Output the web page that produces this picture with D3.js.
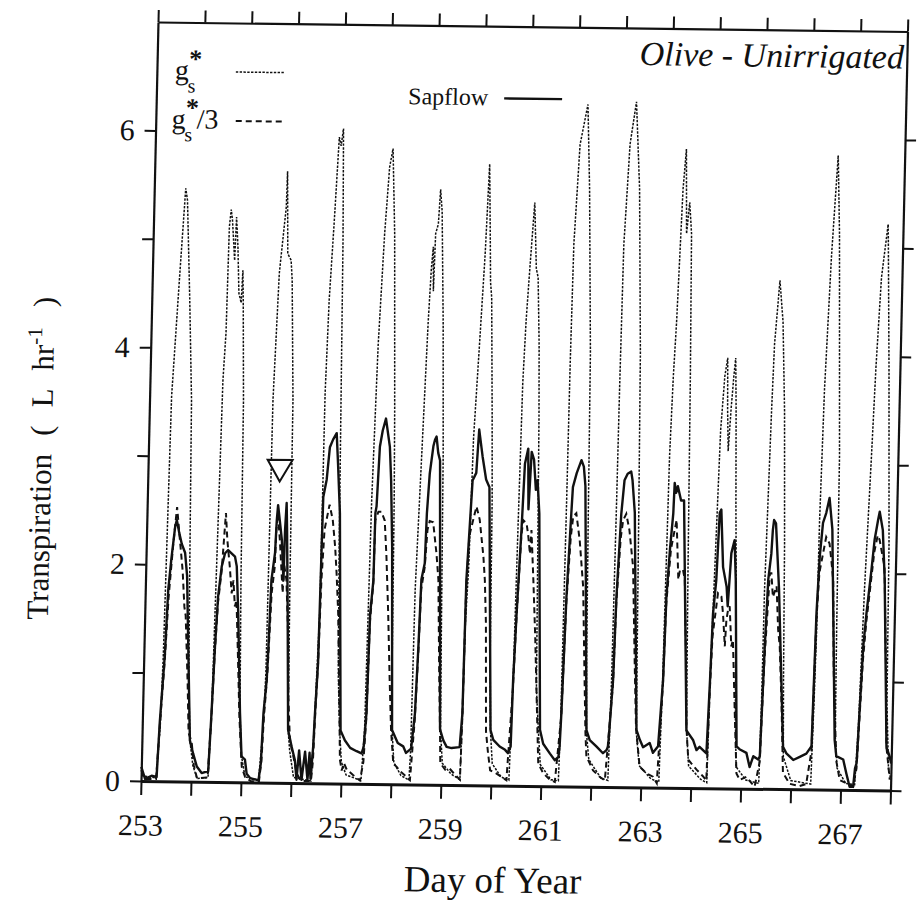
<!DOCTYPE html>
<html><head><meta charset="utf-8">
<script src="https://cdn.jsdelivr.net/npm/d3@7"></script>
<style>
body{margin:0;background:#fff}
svg{display:block}
svg text{font-family:'Liberation Serif','Times New Roman',serif !important;fill:#111}
</style></head>
<body><svg id="chart" width="918" height="902"></svg>
<script>
// ---------------- data ----------------
const dayTicks = [253,254,255,256,257,258,259,260,261,262,263,264,265,266,267,268];
const dayLabels = [253,255,257,259,261,263,265,267];
const valueTicks = [0,1,2,3,4,5,6];
const valueLabels = [0,2,4,6];
const topTickCount = 16;

const sapflow = [
[253.00,0.13],[253.08,0.02],[253.21,0.05],[253.31,0.04],[253.35,0.55],[253.42,1.16],[253.46,1.77],[253.51,2.06],[253.57,2.35],[253.60,2.41],[253.655,2.29],[253.71,2.19],[253.78,2.11],[253.83,1.90],[253.91,0.96],[253.96,0.38],[254.03,0.26],[254.11,0.14],[254.21,0.08],[254.34,0.10],
[254.38,0.63],[254.42,1.25],[254.46,1.71],[254.52,1.99],[254.58,2.11],[254.64,2.14],[254.71,2.11],[254.78,2.08],[254.82,1.99],[254.87,1.56],[254.95,0.64],[255.00,0.24],[255.07,0.21],[255.11,0.08],[255.18,0.04],[255.35,0.02],
[255.39,0.18],[255.42,0.64],[255.47,0.95],[255.49,1.25],[255.52,1.87],[255.58,2.12],[255.60,2.42],[255.62,2.56],[255.66,2.42],[255.71,2.24],[255.76,1.87],[255.77,2.33],[255.79,2.58],[255.81,2.33],[255.86,1.56],[255.92,0.49],[256.00,0.33],[256.07,0.21],[256.11,0.03],[256.15,0.30],[256.21,0.03],[256.27,0.29],[256.33,0.03],[256.36,0.28],[256.39,0.04],
[256.43,0.34],[256.45,0.64],[256.49,1.11],[256.51,2.18],[256.52,2.64],[256.58,2.80],[256.63,3.10],[256.69,3.17],[256.76,3.23],[256.80,2.95],[256.86,2.49],[256.97,0.49],[257.06,0.40],[257.17,0.33],[257.30,0.30],[257.40,0.28],
[257.44,0.34],[257.48,0.65],[257.51,1.57],[257.56,1.88],[257.57,2.50],[257.59,2.56],[257.63,3.11],[257.68,3.26],[257.74,3.37],[257.83,3.11],[257.87,2.80],[257.92,2.19],[258.00,0.50],[258.12,0.38],[258.23,0.35],[258.29,0.29],[258.39,0.33],
[258.45,0.65],[258.49,1.27],[258.52,1.89],[258.58,2.04],[258.60,2.50],[258.64,2.87],[258.70,3.12],[258.73,3.18],[258.76,3.21],[258.80,3.06],[258.84,2.99],[258.96,0.51],[259.03,0.41],[259.10,0.35],[259.20,0.34],[259.36,0.35],
[259.40,0.66],[259.42,1.89],[259.46,2.35],[259.50,2.81],[259.57,2.88],[259.61,3.28],[259.69,3.03],[259.77,2.82],[259.84,2.75],[259.97,0.51],[260.03,0.42],[260.16,0.36],[260.27,0.33],[260.33,0.30],[260.38,0.36],
[260.40,0.97],[260.44,1.59],[260.50,2.36],[260.54,2.97],[260.60,3.11],[260.63,2.55],[260.67,3.08],[260.72,3.01],[260.77,2.73],[260.80,2.82],[260.85,2.51],[260.96,0.52],[261.03,0.39],[261.17,0.30],[261.27,0.24],[261.34,0.27],[261.36,0.37],
[261.38,0.67],[261.43,1.75],[261.49,2.52],[261.51,2.76],[261.58,2.89],[261.67,3.01],[261.72,2.95],[261.76,2.77],[261.89,0.52],[261.96,0.43],[262.10,0.37],[262.23,0.31],[262.30,0.34],[262.33,0.37],
[262.40,0.99],[262.43,1.75],[262.49,2.52],[262.54,2.83],[262.60,2.89],[262.67,2.91],[262.70,2.83],[262.76,2.53],[262.89,0.53],[262.96,0.44],[263.03,0.37],[263.16,0.41],[263.23,0.32],[263.33,0.38],
[263.40,0.99],[263.43,1.76],[263.48,2.20],[263.53,2.53],[263.545,2.81],[263.58,2.72],[263.61,2.78],[263.68,2.65],[263.74,2.65],[263.89,0.53],[264.03,0.44],[264.10,0.35],[264.16,0.38],[264.30,0.32],
[264.34,1.00],[264.37,1.61],[264.42,1.92],[264.46,2.54],[264.49,2.57],[264.55,2.04],[264.63,1.86],[264.66,1.68],[264.71,2.17],[264.77,2.29],[264.81,1.92],[264.90,0.39],[264.97,0.36],[265.10,0.33],[265.17,0.20],[265.24,0.30],[265.34,0.27],[265.37,0.30],
[265.42,1.31],[265.46,1.93],[265.51,2.17],[265.53,2.39],[265.55,2.48],[265.59,2.45],[265.68,1.84],[265.83,0.39],[265.90,0.33],[266.04,0.27],[266.17,0.30],[266.30,0.33],[266.40,0.40],
[266.44,1.63],[266.48,2.15],[266.53,2.46],[266.59,2.55],[266.65,2.69],[266.72,2.40],[266.86,0.46],[266.90,0.31],[267.04,0.28],[267.11,0.15],[267.18,0.03],[267.25,0.03],[267.28,0.20],
[267.31,0.25],[267.39,1.32],[267.44,1.63],[267.52,2.03],[267.57,2.31],[267.63,2.49],[267.66,2.57],[267.73,2.40],[267.79,1.94],[267.90,0.40],[267.97,0.31],[268.00,0.25]
];

const gsStarThird = [
[253.00,0.10],[253.08,0.02],[253.30,0.02],[253.35,0.50],[253.42,1.10],[253.47,1.70],[253.54,2.19],[253.60,2.53],[253.67,2.23],[253.74,1.94],[253.79,1.61],[253.82,1.53],[253.89,0.90],[253.93,0.45],[253.97,0.40],[254.00,0.35],[254.05,0.15],[254.12,0.03],[254.33,0.04],
[254.38,0.60],[254.42,1.20],[254.46,1.65],[254.52,1.95],[254.58,2.48],[254.62,2.23],[254.68,1.99],[254.73,1.74],[254.76,1.86],[254.80,1.62],[254.83,1.68],[254.88,1.20],[254.94,0.60],[255.01,0.14],[255.08,0.05],[255.20,0.01],[255.36,0.01],
[255.40,0.20],[255.43,0.60],[255.48,1.00],[255.53,1.75],[255.58,1.99],[255.595,2.33],[255.62,2.48],[255.67,2.24],[255.75,1.75],[255.765,2.02],[255.82,1.87],[255.89,1.26],[255.91,0.80],[255.96,0.40],[256.04,0.24],[256.11,0.09],[256.20,0.02],[256.40,0.02],
[256.43,0.20],[256.46,0.70],[256.49,1.10],[256.52,1.87],[256.56,2.34],[256.65,2.57],[256.72,2.43],[256.78,2.18],[256.82,1.94],[256.87,1.57],[256.94,0.65],[256.97,0.22],[257.01,0.12],[257.05,0.19],[257.11,0.13],[257.24,0.08],[257.38,0.03],
[257.44,0.20],[257.48,0.60],[257.51,1.50],[257.56,1.85],[257.57,2.43],[257.63,2.51],[257.69,2.51],[257.76,2.43],[257.81,2.10],[257.87,1.58],[257.93,0.96],[257.98,0.50],[258.04,0.19],[258.11,0.16],[258.18,0.12],[258.31,0.07],[258.38,0.04],
[258.45,0.60],[258.49,1.20],[258.52,1.80],[258.58,2.00],[258.62,2.35],[258.66,2.43],[258.73,2.42],[258.81,2.13],[258.86,1.89],[258.92,1.00],[258.96,0.50],[258.98,0.20],[259.08,0.14],[259.17,0.15],[259.31,0.08],[259.38,0.05],
[259.40,0.60],[259.42,1.80],[259.46,2.30],[259.56,2.51],[259.59,2.57],[259.66,2.45],[259.75,2.11],[259.79,1.89],[259.83,1.50],[259.88,0.50],[259.93,0.30],[259.98,0.14],[260.11,0.11],[260.21,0.08],[260.31,0.05],
[260.40,0.90],[260.44,1.55],[260.50,2.30],[260.53,2.45],[260.60,2.42],[260.64,2.30],[260.68,2.14],[260.70,2.36],[260.76,1.90],[260.82,1.40],[260.90,0.60],[260.94,0.21],[261.04,0.12],[261.18,0.06],[261.28,0.04],
[261.38,0.65],[261.43,1.70],[261.49,2.30],[261.53,2.49],[261.59,2.52],[261.67,2.27],[261.76,1.84],[261.82,1.10],[261.87,0.50],[261.90,0.28],[262.04,0.15],[262.18,0.09],[262.28,0.06],
[262.40,0.95],[262.43,1.70],[262.49,2.30],[262.53,2.46],[262.59,2.52],[262.66,2.37],[262.75,2.03],[262.82,1.20],[262.88,0.55],[262.97,0.19],[263.11,0.13],[263.24,0.10],[263.32,0.04],
[263.40,0.95],[263.43,1.70],[263.50,2.20],[263.60,2.47],[263.66,1.92],[263.69,2.01],[263.75,2.01],[263.79,1.92],[263.85,1.20],[263.89,0.55],[263.94,0.26],[264.11,0.17],[264.24,0.11],[264.31,0.07],
[264.34,0.90],[264.37,1.40],[264.46,1.80],[264.53,1.77],[264.57,1.61],[264.62,1.31],[264.64,1.55],[264.67,1.65],[264.70,1.68],[264.75,1.31],[264.78,1.37],[264.85,0.69],[264.91,0.14],[264.98,0.08],[265.11,0.11],[265.22,0.05],[265.28,0.02],
[265.37,0.25],[265.42,1.20],[265.49,1.99],[265.52,1.99],[265.56,1.77],[265.63,1.87],[265.68,1.47],[265.72,1.31],[265.78,0.80],[265.84,0.15],[265.98,0.05],[266.18,0.03],[266.31,0.05],
[266.40,0.35],[266.44,1.55],[266.48,2.00],[266.60,2.33],[266.67,2.27],[266.72,2.09],[266.76,1.93],[266.81,1.10],[266.90,0.27],[266.98,0.09],[267.12,0.06],[267.25,0.03],
[267.31,0.20],[267.39,1.20],[267.44,1.55],[267.52,1.95],[267.57,2.20],[267.63,2.35],[267.67,2.31],[267.78,2.06],[267.85,1.20],[267.90,0.40],[267.98,0.10]
];

const gsStar = [
[253.00,0.05],[253.30,0.03],[253.36,0.50],[253.39,1.16],[253.44,3.55],[253.55,4.69],[253.63,5.47],[253.67,5.36],[253.76,4.44],[253.84,3.52],[253.88,1.98],[253.91,0.96],[253.96,0.38],[254.03,0.15],[254.12,0.03],[254.34,0.04],
[254.38,0.63],[254.39,0.94],[254.46,3.71],[254.50,4.14],[254.52,5.12],[254.55,5.28],[254.58,5.18],[254.64,4.81],[254.66,5.21],[254.70,4.94],[254.74,4.51],[254.79,4.42],[254.81,4.72],[254.83,4.45],[254.88,3.52],[254.91,1.86],[254.95,0.64],[255.00,0.24],[255.08,0.05],[255.35,0.02],
[255.42,0.50],[255.45,1.00],[255.47,3.53],[255.54,4.70],[255.65,5.31],[255.66,5.64],[255.70,4.88],[255.77,4.82],[255.80,4.64],[255.87,3.53],[255.89,1.87],[255.92,0.49],[255.96,0.30],[256.05,0.05],[256.40,0.02],
[256.44,0.50],[256.50,1.57],[256.51,3.60],[256.55,4.46],[256.62,5.23],[256.68,5.96],[256.72,5.88],[256.76,6.04],[256.80,5.00],[256.83,3.60],[256.86,2.20],[256.90,1.00],[256.95,0.50],[257.00,0.20],[257.10,0.08],[257.40,0.03],
[257.45,0.50],[257.47,1.59],[257.49,2.62],[257.55,4.05],[257.63,5.08],[257.70,5.69],[257.76,5.86],[257.83,5.08],[257.91,3.44],[257.94,2.62],[257.97,1.20],[258.00,0.50],[258.05,0.20],[258.20,0.08],[258.36,0.04],
[258.38,0.30],[258.40,1.80],[258.47,3.03],[258.54,4.26],[258.58,4.76],[258.61,4.96],[258.63,4.55],[258.65,5.08],[258.70,5.17],[258.73,5.49],[258.77,5.29],[258.84,4.27],[258.90,3.04],[258.94,1.50],[258.97,0.50],[259.02,0.20],[259.20,0.10],[259.38,0.05],
[259.40,0.60],[259.42,1.50],[259.46,2.00],[259.50,3.20],[259.58,4.10],[259.65,4.90],[259.70,5.73],[259.75,4.97],[259.77,4.64],[259.80,4.50],[259.86,3.45],[259.90,2.63],[259.93,1.20],[259.97,0.50],[260.02,0.20],[260.20,0.08],[260.36,0.05],
[260.40,0.97],[260.43,2.40],[260.46,3.72],[260.50,4.30],[260.55,4.77],[260.62,5.38],[260.68,4.77],[260.72,4.69],[260.77,4.07],[260.80,3.40],[260.84,2.00],[260.87,0.90],[260.93,0.50],[260.98,0.20],[261.20,0.06],[261.35,0.05],
[261.37,0.60],[261.39,2.60],[261.40,3.90],[261.42,5.00],[261.50,5.92],[261.64,6.29],[261.71,5.51],[261.80,4.00],[261.83,2.50],[261.86,1.20],[261.89,0.50],[261.95,0.25],[262.20,0.08],[262.34,0.06],
[262.37,1.00],[262.39,2.60],[262.40,3.70],[262.42,5.00],[262.50,5.93],[262.61,6.32],[262.71,5.52],[262.80,4.00],[262.84,2.50],[262.87,1.20],[262.89,0.50],[262.96,0.20],[263.20,0.08],[263.36,0.05],
[263.39,0.90],[263.43,3.06],[263.47,3.80],[263.51,4.29],[263.58,5.52],[263.63,5.89],[263.67,5.11],[263.72,5.40],[263.77,5.11],[263.81,3.80],[263.85,2.00],[263.89,0.55],[263.95,0.20],[264.20,0.08],[264.32,0.05],
[264.34,1.00],[264.38,1.90],[264.44,3.30],[264.50,3.80],[264.55,3.97],[264.57,3.50],[264.60,3.11],[264.64,3.50],[264.68,3.80],[264.71,3.97],[264.74,3.50],[264.78,2.60],[264.82,1.90],[264.86,0.70],[264.90,0.20],[265.10,0.08],[265.36,0.05],
[265.38,0.80],[265.39,1.84],[265.45,3.48],[265.48,4.10],[265.56,4.69],[265.64,4.31],[265.71,3.49],[265.77,2.26],[265.81,1.00],[265.84,0.30],[266.00,0.08],[266.40,0.05],
[266.43,0.80],[266.45,1.44],[266.46,2.47],[266.50,3.69],[266.58,4.92],[266.67,5.85],[266.73,5.13],[266.83,3.08],[266.85,1.50],[266.87,0.50],[266.92,0.20],[267.10,0.06],[267.28,0.05],
[267.33,0.60],[267.39,1.86],[267.47,3.09],[267.52,3.91],[267.59,4.73],[267.70,5.22],[267.71,5.08],[267.78,3.91],[267.86,2.27],[267.89,0.80],[267.95,0.20],[268.00,0.10]
];

const markers = [[255.64, 2.91]];
const title = "Olive - Unirrigated";
const xTitle = "Day of Year";
const yTitleParts = ["Transpiration", "(", "L", "hr", "-1", ")"];

// ---------------- drawing ----------------
const FONT = "'Liberation Serif', 'Times New Roman', serif";
const W = 750, H = 759;
const svg = d3.select("#chart");
svg.append("rect").attr("width",918).attr("height",902).attr("fill","#fff");
// the original figure is a slightly skewed scan: reproduce that tilt
const g = svg.append("g").style("font-family",FONT)
  .attr("transform","matrix(0.99933,0.01267,-0.0224,1,158,22)");

const x = d3.scaleLinear().domain([253,268]).range([0,W]);
const y = d3.scaleLinear().domain([0,7]).range([H,0]);
const xTop = d3.scaleLinear().domain([0,topTickCount]).range([0,W]);

function styleAxis(sel, w){
  sel.attr("font-family",null).style("font-family",FONT);
  sel.selectAll("path.domain").attr("stroke","#111").attr("stroke-width",w);
  sel.selectAll(".tick line").attr("stroke","#111").attr("stroke-width",2);
  sel.selectAll(".tick text").style("font-family",FONT).attr("font-size",30).attr("fill","#111");
}

const axB = g.append("g").attr("transform",`translate(0,${H})`)
  .call(d3.axisBottom(x).tickValues(dayTicks).tickSize(14).tickSizeOuter(0).tickPadding(19)
    .tickFormat(d => dayLabels.includes(d) ? String(d) : ""));
styleAxis(axB, 3);

const axL = g.append("g")
  .call(d3.axisLeft(y).tickValues(valueTicks).tickSize(11).tickSizeOuter(0).tickPadding(10)
    .tickFormat(d => valueLabels.includes(d) ? String(d) : ""));
styleAxis(axL, 2.2);

const axT = g.append("g")
  .call(d3.axisTop(xTop).tickValues(d3.range(0, topTickCount + 1)).tickSize(12).tickSizeOuter(0).tickFormat(""));
styleAxis(axT, 2.2);

const axR = g.append("g").attr("transform",`translate(${W},0)`)
  .call(d3.axisRight(y).tickValues(valueTicks).tickSize(11).tickSizeOuter(0).tickFormat(""));
styleAxis(axR, 2.2);

const line = d3.line().x(d => x(d[0])).y(d => y(d[1]));

g.append("path").datum(gsStar).attr("d", line)
  .attr("fill","none").attr("stroke","#111").attr("stroke-width",1.5).attr("stroke-dasharray","2.4,1.4");
g.append("path").datum(gsStarThird).attr("d", line)
  .attr("fill","none").attr("stroke","#111").attr("stroke-width",2).attr("stroke-dasharray","6,4");
g.append("path").datum(sapflow).attr("d", line)
  .attr("fill","none").attr("stroke","#111").attr("stroke-width",2.4).attr("stroke-linejoin","round");

// open triangle marker
g.selectAll("path.marker").data(markers).enter().append("path").attr("class","marker")
  .attr("d", d3.symbol(d3.symbolTriangle, 270))
  .attr("transform", d => `translate(${x(d[0])},${y(d[1])}) rotate(180)`)
  .attr("fill","#fff").attr("stroke","#111").attr("stroke-width",2);

// legend
const lg = g.append("g");
function txt(parent, px, py, size, s){
  return parent.append("text").attr("x",px).attr("y",py).attr("font-size",size).style("font-family",FONT).text(s);
}
function gsLabel(px, py, suffix){
  txt(lg, px, py, 28, "g");
  txt(lg, px+13, py+13, 20, "s");
  txt(lg, px+14, py-12, 26, "*").attr("font-weight","bold");
  if (suffix) txt(lg, px+25, py, 28, suffix);
}
gsLabel(18, 57, null);
gsLabel(16, 106, "/3");
lg.append("line").attr("x1",79).attr("x2",128).attr("y1",49).attr("y2",49)
  .attr("stroke","#111").attr("stroke-width",1.5).attr("stroke-dasharray","2.4,1.4");
lg.append("line").attr("x1",80).attr("x2",130).attr("y1",98).attr("y2",98)
  .attr("stroke","#111").attr("stroke-width",2).attr("stroke-dasharray","6,4");
txt(lg, 252, 79, 24, "Sapflow");
lg.append("line").attr("x1",348).attr("x2",406).attr("y1",72).attr("y2",72)
  .attr("stroke","#111").attr("stroke-width",2.4);

// title
txt(g, 747, 37, 34, title).attr("text-anchor","end").attr("font-style","italic");

// axis titles
txt(g, 354, 866, 37, xTitle).attr("text-anchor","middle");
const yt = g.append("text").attr("transform","translate(-97,599) rotate(-90)")
  .attr("text-anchor","start").style("font-family",FONT).attr("font-size",31);
yt.append("tspan").text(yTitleParts[0]);
yt.append("tspan").attr("dx",18).text(yTitleParts[1]);
yt.append("tspan").attr("dx",18).text(yTitleParts[2]);
yt.append("tspan").attr("dx",18).text(yTitleParts[3]);
yt.append("tspan").attr("dy",-12).attr("font-size",21).text(yTitleParts[4]);
yt.append("tspan").attr("dy",12).attr("dx",20).text(yTitleParts[5]);
</script></body></html>
